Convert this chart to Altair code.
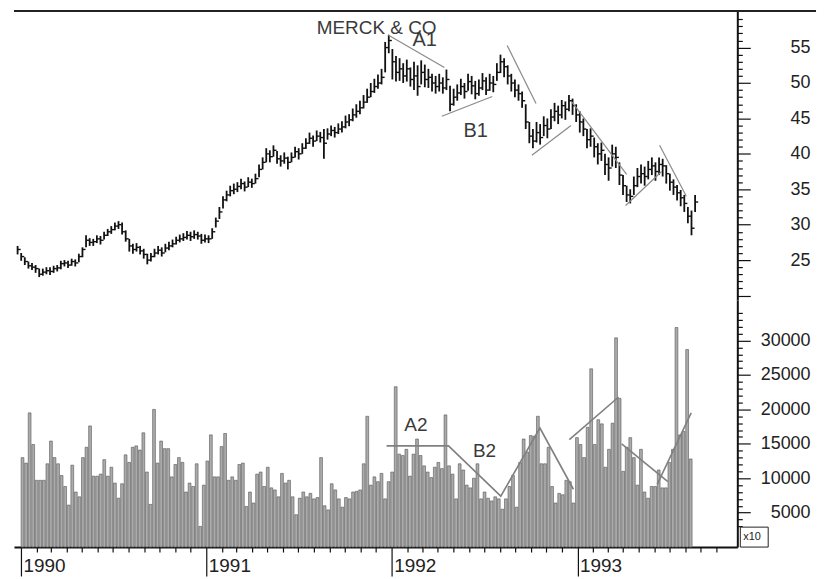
import altair as alt
import pandas as pd

FONT = "Liberation Sans"

# ---------------- data (weekly bars) ----------------
first_week = "1990-01-04"

close = [
    26.5, 25.5, 24.8, 24.2, 24.0, 23.8, 23.0, 23.3, 23.5, 23.4,
    23.8, 23.9, 24.5, 24.6, 24.3, 24.8, 24.6, 25.5, 26.5, 27.8,
    27.5, 27.6, 28.0, 27.8, 28.5, 29.0, 29.3, 29.8, 30.0, 29.0,
    28.0, 27.0, 26.5, 26.8, 26.3, 25.8, 25.0, 25.5, 26.0, 26.4,
    26.0, 26.7, 27.0, 27.3, 27.8, 28.0, 28.2, 28.5, 28.3, 28.6,
    28.4, 27.8,
    28.0, 28.0, 29.0, 30.5, 31.8, 33.5, 34.2, 34.8, 35.0, 35.4,
    35.8, 35.3, 36.0, 35.8, 36.5, 37.8, 38.8, 40.0, 39.6, 40.5,
    39.3, 39.0, 39.4, 38.8, 39.5, 40.3, 40.0, 40.8, 41.5, 42.2,
    41.8, 42.5, 42.3, 41.5, 42.8, 43.3, 43.0, 43.5, 43.8, 44.5,
    44.8, 45.5, 46.0, 46.5, 47.3, 48.0, 48.8, 49.5, 50.0, 50.8,
    55.0, 56.0,
    53.0, 51.5, 52.0, 51.0, 52.0, 50.5, 51.0, 49.5, 51.5, 50.5,
    50.8, 50.0, 49.5, 50.0, 49.3, 50.5, 47.0, 48.0, 48.6, 49.5,
    48.8, 50.2, 49.6, 48.5, 49.3, 50.3, 49.0, 50.0, 49.8, 51.5,
    53.0, 52.3, 51.0, 50.0, 49.0, 48.5, 47.5, 44.5, 42.5, 41.8,
    43.0, 42.3, 44.0, 43.5, 45.2, 46.0, 45.5, 46.8, 46.3, 47.5,
    46.8, 45.5,
    44.5, 43.5, 42.0, 42.5, 41.0, 40.0, 40.5, 38.5, 38.0, 40.0,
    39.5, 37.0, 35.5, 34.2, 34.0, 35.5, 36.8, 37.2, 36.8, 37.8,
    38.3, 37.5, 38.5, 38.3, 37.2, 36.0, 35.3, 34.5, 33.8, 33.0,
    31.2, 29.5, 33.2,
]

high = [
    27.0, 26.0, 25.4, 24.8, 24.6, 24.3, 23.8, 23.8, 24.0, 24.0,
    24.2, 24.3, 24.9, 25.0, 24.9, 25.2, 25.1, 25.9, 26.8, 28.5,
    28.1, 28.0, 28.5, 28.4, 29.0, 29.4, 29.8, 30.3, 30.5, 30.3,
    29.2, 28.0, 27.3, 27.4, 27.0, 26.6, 25.9, 26.0, 26.6, 27.0,
    26.8, 27.3, 27.6, 27.9, 28.3, 28.6, 28.8, 29.1, 29.0, 29.2,
    29.0, 28.7,
    28.6, 28.5, 29.5, 31.0, 32.5, 34.0, 34.8, 35.5, 35.8, 36.0,
    36.5, 36.1, 36.7, 36.5, 37.2, 38.5, 39.5, 40.8, 40.5, 41.2,
    40.4, 39.8, 40.2, 39.6, 40.2, 41.0, 40.8, 41.5, 42.2, 43.0,
    42.6, 43.3, 43.1, 43.5, 43.6, 44.0, 43.8, 44.3, 44.6, 45.4,
    45.6, 46.4, 47.0, 47.5, 48.3, 49.2, 50.0, 50.6, 51.2, 52.0,
    55.8, 56.8,
    54.8, 53.8, 53.5, 52.8, 53.3, 52.2, 53.0, 52.5, 53.2, 52.6,
    52.0, 51.3, 51.0, 51.3, 50.8, 51.9, 49.6, 49.2, 49.8, 50.6,
    50.0, 51.3, 51.0, 50.3, 50.5, 51.4, 50.8, 51.3, 51.0, 52.8,
    54.0, 53.5, 52.5, 51.3, 50.5, 49.8, 48.8, 47.0, 44.5, 43.5,
    44.5, 44.2, 45.3, 45.0, 46.3, 47.2, 46.8, 47.6, 47.4, 48.3,
    47.8, 47.0,
    46.0, 45.0, 43.5, 43.6, 42.3, 41.5, 41.6, 40.0, 39.5, 41.3,
    41.0, 38.8, 37.0, 35.5, 35.0, 36.8, 38.0, 38.5, 38.2, 39.0,
    39.5, 38.8, 39.5, 39.3, 38.4, 37.2, 36.4, 35.6, 34.9, 34.2,
    32.5, 32.0, 34.2,
]

low = [
    25.8, 24.9, 24.3, 23.8, 23.6, 23.2, 22.6, 22.8, 23.0, 22.9,
    23.2, 23.4, 23.7, 24.1, 23.9, 24.2, 24.1, 24.7, 25.4, 26.8,
    27.0, 27.0, 27.4, 27.2, 27.9, 28.4, 28.7, 29.2, 29.4, 28.6,
    27.6, 26.2, 25.9, 26.2, 25.8, 25.2, 24.4, 24.8, 25.4, 25.8,
    25.5, 26.1, 26.4, 26.8, 27.2, 27.5, 27.7, 27.9, 27.7, 28.0,
    27.9, 27.3,
    27.5, 27.4, 28.0, 29.6, 30.8, 32.3, 33.3, 34.0, 34.3, 34.6,
    35.0, 34.7, 35.3, 35.2, 35.8, 36.7, 37.8, 38.8, 38.8, 39.6,
    38.6, 38.2, 38.6, 37.8, 38.8, 39.5, 39.2, 40.0, 40.7, 41.4,
    41.0, 41.8, 41.6, 39.3, 42.0, 42.5, 42.3, 42.8, 43.0, 43.6,
    43.9, 44.6, 45.1, 45.6, 46.4, 47.2, 48.0, 48.6, 49.2, 49.8,
    51.5, 54.2,
    50.5, 50.2, 50.3, 50.0, 50.2, 49.5, 49.0, 48.2, 49.8, 49.4,
    49.3, 48.8, 48.5, 48.8, 48.5, 49.0, 46.0, 46.8, 47.5, 48.3,
    47.8, 48.9, 48.4, 47.7, 48.2, 49.0, 48.3, 48.9, 48.7, 50.3,
    51.4, 50.8, 49.8, 48.8, 48.0, 47.5, 46.5, 43.5, 41.5, 40.8,
    41.6, 41.3, 42.5, 42.2, 43.5, 44.6, 44.2, 45.0, 44.8, 46.0,
    45.5, 44.5,
    43.0, 42.5, 40.8, 41.0, 39.5, 38.5, 39.0, 37.0, 36.2, 38.2,
    38.0, 35.6, 34.2, 33.2, 33.0, 34.2, 35.3, 35.8, 35.5, 36.4,
    37.0, 36.2, 37.0, 36.8, 35.8, 34.8, 34.2, 33.4, 32.6, 31.8,
    30.2, 28.5, 31.8,
]

volume = [
    13000, 12200, 19500, 14900, 9700, 9700, 9700, 12100, 15400, 13000,
    12100, 10400, 8800, 6100, 11900, 8000, 7300, 13000, 14500, 17600,
    10300, 10300, 10600, 12700, 10300, 11600, 9300, 7100, 9200, 13400,
    12300, 14500, 14700, 14100, 16600, 10900, 6200, 20000, 12200, 15400,
    14300, 14300, 10200, 12000, 13000, 12300, 8000, 9300, 8800, 12100,
    3000, 9000, 12500, 16300, 10200, 10200, 14600, 16500, 9700, 10200,
    9700, 12000, 12200, 5900, 8000, 6400, 10600, 10900, 8800, 11600,
    8600, 8300, 7300, 10700, 9300, 9700, 7300, 4700, 7100, 8000,
    7300, 7800, 7000, 7200, 13000, 6000, 5400, 9200, 8300, 7000,
    5800, 7200, 7000, 8000, 8100, 8300, 12100, 19000, 9000, 10200,
    9500, 10700, 7000, 9500, 10900, 23300, 13500, 13300, 14200, 10300,
    13500, 15700, 13300, 11800, 10900, 10100, 11600, 12300, 11400, 19200,
    11800, 10600, 7000, 12100, 11200, 9000, 8600, 10000, 12100, 7000,
    8000, 7100, 6700, 7300, 7000, 5500, 7000, 8800, 10400, 5800,
    12300, 15700, 13800, 16200, 16100, 19000, 12100, 12100, 14500, 8800,
    6400, 7800, 7600, 9700, 9500, 6400, 15900, 14900, 13000, 17400,
    25900, 14900, 18500, 17900, 11600, 14200, 18000, 30400, 21600, 11000,
    14500, 15900, 13000, 9000, 14200, 8000, 7100, 8800, 8800, 11200,
    8600, 8600, 12300, 14200, 31900, 16300, 16800, 28700, 12800,
]

# trend lines on the price panel
pline_seg = ["A1", "A1", "B1", "B1", "L3", "L3", "L4", "L4", "L5", "L5", "L6", "L6", "L7", "L7"]
pline_date = ["1991-12-24", "1992-04-12", "1992-04-07", "1992-07-14", "1992-08-12", "1992-10-07",
              "1992-09-29", "1992-12-14", "1992-12-16", "1993-04-01", "1993-03-30", "1993-06-08",
              "1993-06-04", "1993-07-26"]
pline_val = [56.8, 52.2, 45.3, 48.1, 55.3, 47.1, 39.8, 44.0, 47.3, 37.1, 32.7, 37.5, 41.2, 34.0]

# trend lines on the volume panel
vline_seg = ["V1", "V1", "V1", "V1", "V1", "V5", "V5", "V6", "V6", "V7", "V7"]
vline_date = ["1991-12-22", "1992-04-22", "1992-08-03", "1992-10-19", "1992-12-24",
              "1992-12-16", "1993-03-23", "1993-03-29", "1993-06-28", "1993-06-07", "1993-08-13"]
vline_val = [14700, 14700, 7400, 17300, 8400, 15600, 21800, 15000, 9500, 9100, 19500]

# annotations
ptext_label = ["MERCK & CO", "A1", "B1"]
ptext_date = ["1991-08-08", "1992-02-10", "1992-05-19"]
ptext_val = [56.9, 55.2, 42.4]
ptext_size = [19, 20, 20]

vtext_label = ["A2", "B2"]
vtext_date = ["1992-01-26", "1992-06-09"]
vtext_val = [16800, 13150]

price_ticks = list(range(20, 60))
vol_ticks = list(range(3000, 35000, 1000))

# ---------------- tables ----------------
dates = pd.date_range(first_week, periods=len(close), freq="7D").strftime("%Y-%m-%d").tolist()
bars = pd.DataFrame({"date": dates, "hi": high, "lo": low, "cl": close, "vol": volume})
plines = pd.DataFrame({"seg": pline_seg, "date": pline_date, "val": pline_val})
vlines = pd.DataFrame({"seg": vline_seg, "date": vline_date, "val": vline_val})
ptext = pd.DataFrame({"label": ptext_label, "date": ptext_date, "val": ptext_val, "size": ptext_size})
vtext = pd.DataFrame({"label": vtext_label, "date": vtext_date, "val": vtext_val})

month_ticks = [alt.DateTime(year=y, month=m, date=1, utc=True)
               for y in range(1990, 1994) for m in range(1, 13) if (y, m) <= (1993, 10)]

xscale = alt.Scale(domain=[alt.DateTime(year=1989, month=12, date=28, utc=True),
                           alt.DateTime(year=1993, month=11, date=2, utc=True)], nice=False)
pscale = alt.Scale(domain=[19.37, 60.16], nice=False, zero=False)
vscale = alt.Scale(domain=[0, 35900], nice=False, zero=False)

P_LAB = "(datum.value % 5 == 0 && datum.value >= 25 && datum.value <= 55)"
V_LAB = "(datum.value % 5000 == 0 && datum.value <= 30000)"
X_LAB = "utcmonth(datum.value) == 0"

price_axis = alt.Axis(
    orient="right", values=price_ticks, title=None, grid=False, format="d",
    domain=True, domainColor="#111", domainWidth=2,
    ticks=True, tickColor="#111", tickWidth=1.2,
    tickSize={"expr": "datum.value % 5 == 0 ? 13 : 5"},
    labelExpr=P_LAB + " ? datum.label : ''",
    labelFontSize={"expr": P_LAB + " ? 18 : 0"},
    labelAlign="right", labelBaseline="middle", labelPadding=60,
    labelFont=FONT, labelColor="#222",
    labelOverlap=False, labelFlush=False, labelBound=False,
)
vol_axis = alt.Axis(
    orient="right", values=vol_ticks, title=None, grid=False, format="d",
    domain=True, domainColor="#111", domainWidth=2,
    ticks=True, tickColor="#111", tickWidth=1.2,
    tickSize={"expr": "datum.value % 5000 == 0 ? 13 : 5"},
    labelExpr=V_LAB + " ? datum.label : ''",
    labelFontSize={"expr": V_LAB + " ? 18 : 0"},
    labelAlign="right", labelBaseline="middle", labelPadding=60,
    labelFont=FONT, labelColor="#222",
    labelOverlap=False, labelFlush=False, labelBound=False,
)
x_axis = alt.Axis(
    orient="bottom", values=month_ticks, title=None, grid=False,
    domain=True, domainColor="#111", domainWidth=2,
    ticks=True, tickColor="#111", tickWidth=1.2,
    tickSize={"expr": X_LAB + " ? 29 : 5"},
    labelExpr=X_LAB + " ? utcFormat(datum.value, '%Y') : ''",
    labelFontSize={"expr": X_LAB + " ? 19 : 0"},
    labelAlign="left", labelBaseline="alphabetic", labelPadding=-4, labelOffset=2,
    labelFont=FONT, labelColor="#222",
    labelOverlap=False, labelFlush=False, labelBound=False,
)

W = 726
X = alt.X("date:T", scale=xscale, axis=None)

# ---------------- price panel ----------------
p_rule = alt.Chart(bars).mark_rule(color="#111", strokeWidth=1.8).encode(
    x=X, y=alt.Y("lo:Q", scale=pscale, axis=price_axis), y2="hi:Q")
p_tick = alt.Chart(bars).mark_tick(orient="horizontal", size=3, thickness=1.4,
                                   xOffset=1.6, color="#111", opacity=1).encode(
    x=X, y=alt.Y("cl:Q", scale=pscale, axis=price_axis))
p_lines = alt.Chart(plines).mark_line(color="#8a8a8a", strokeWidth=1.2).encode(
    x=X, y=alt.Y("val:Q", scale=pscale, axis=price_axis), detail="seg:N")
p_text = alt.Chart(ptext).mark_text(align="left", baseline="alphabetic", font=FONT,
                                    color="#3a3a3a").encode(
    x=X, y=alt.Y("val:Q", scale=pscale, axis=price_axis), text="label:N",
    size=alt.Size("size:Q", scale=None, legend=None))
top_line = alt.Chart(alt.Data(values=[{"k": 0}])).mark_rule(color="#222", strokeWidth=2).encode(
    x=alt.value(0), x2=alt.value(805), y=alt.value(0))

price = alt.layer(p_rule, p_tick, p_lines, p_text, top_line).properties(width=W, height=290)

# ---------------- volume panel ----------------
XV = alt.X("date:T", scale=xscale, axis=x_axis)
v_bar = alt.Chart(bars).mark_bar(size=2.8, fill="#ababab", stroke="#555555", strokeWidth=0.6).encode(
    x=XV, y=alt.Y("vol:Q", scale=vscale, axis=vol_axis))
v_lines = alt.Chart(vlines).mark_line(color="#808080", strokeWidth=1.6).encode(
    x=XV, y=alt.Y("val:Q", scale=vscale, axis=vol_axis), detail="seg:N")
v_text = alt.Chart(vtext).mark_text(align="left", baseline="alphabetic", font=FONT,
                                    fontSize=19, color="#3a3a3a").encode(
    x=XV, y=alt.Y("val:Q", scale=vscale, axis=vol_axis), text="label:N")
x10_box = alt.Chart(alt.Data(values=[{"k": 0}])).mark_rect(fill="white", stroke="#222", strokeWidth=1).encode(
    x=alt.value(729), x2=alt.value(757), y=alt.value(228), y2=alt.value(248))
x10_text = alt.Chart(alt.Data(values=[{"k": 0}])).mark_text(
    text="x10", font=FONT, fontSize=11, align="left", baseline="middle", color="#222").encode(
    x=alt.value(732), y=alt.value(238))

vol = alt.layer(v_bar, v_lines, v_text, x10_box, x10_text).properties(width=W, height=248)

chart = alt.vconcat(price, vol, spacing=0).properties(
    padding={"left": 5, "top": 1, "right": 5, "bottom": 0},
    background="white",
).configure_view(stroke=None)

chart.save("out.html", embed_options={"renderer": "svg", "actions": False})
